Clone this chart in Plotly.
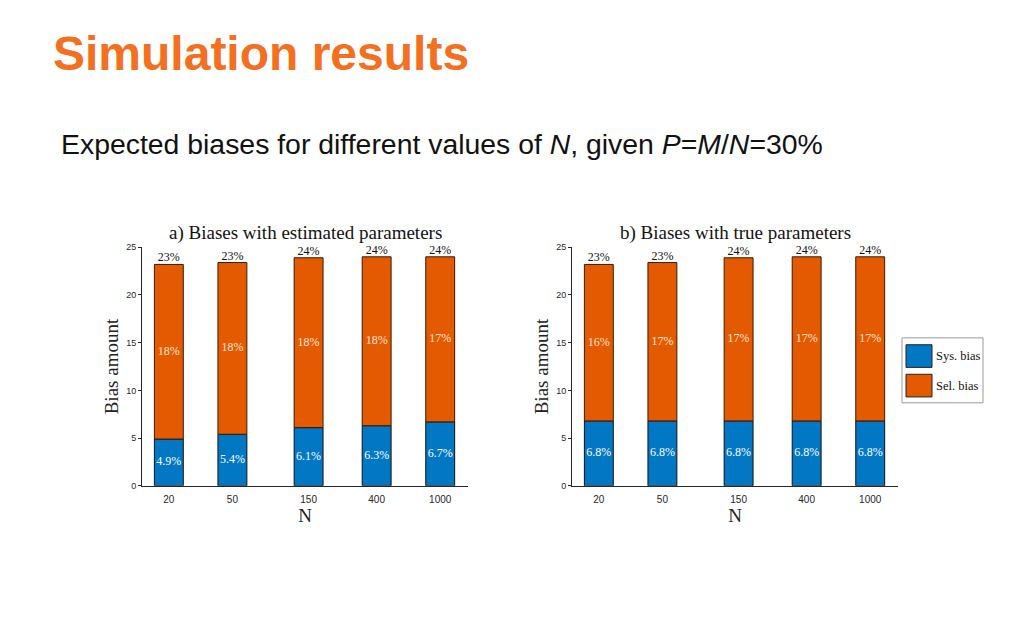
import numpy as np
import plotly.graph_objects as go

# ---------------- data ----------------
N_values = [20, 50, 150, 400, 1000]
tick_labels = ["20", "50", "150", "400", "1000"]
sys_est = [4.9, 5.4, 6.1, 6.3, 6.7]
sel_est = [18.3, 18.0, 17.8, 17.7, 17.3]
sys_true = [6.8, 6.8, 6.8, 6.8, 6.8]
sel_true = [16.4, 16.6, 17.1, 17.2, 17.2]
panel_titles = ["a) Biases with estimated parameters", "b) Biases with true parameters"]
series_names = ["Sys. bias", "Sel. bias"]
y_ticks = [0, 5, 10, 15, 20, 25]

# ---------------- style ----------------
W, H = 1024, 640
OFF = 8  # page body margin
BLUE = "#0277C4"
ORANGE = "#E35A00"
SERIF = "Liberation Serif"
SANS = "Liberation Sans"
AXC = "#262626"

xpos = np.log10(N_values)
bar_w = 0.181

fig = go.Figure()

panels = [(sys_est, sel_est, "x", "y"), (sys_true, sel_true, "x2", "y2")]
for sys_v, sel_v, xa, ya in panels:
    sys_a = np.array(sys_v)
    sel_a = np.array(sel_v)
    tot = sys_a + sel_a
    fig.add_trace(go.Bar(x=xpos, y=sys_a, width=bar_w, marker=dict(color=BLUE, line=dict(color="#111", width=1)),
                         xaxis=xa, yaxis=ya, name=series_names[0], showlegend=False, hoverinfo="skip"))
    fig.add_trace(go.Bar(x=xpos, y=sel_a, base=sys_a, width=bar_w,
                         marker=dict(color=ORANGE, line=dict(color="#3a1a00", width=1)),
                         xaxis=xa, yaxis=ya, name=series_names[1], showlegend=False, hoverinfo="skip"))
    # labels
    fig.add_trace(go.Scatter(x=xpos, y=sys_a / 2, mode="text",
                             text=[f"{v:.1f}%" for v in sys_a],
                             textfont=dict(family=SERIF, size=12, color="white"),
                             xaxis=xa, yaxis=ya, showlegend=False, hoverinfo="skip", cliponaxis=False))
    fig.add_trace(go.Scatter(x=xpos, y=sys_a + sel_a / 2, mode="text",
                             text=[f"{v:.0f}%" for v in sel_a],
                             textfont=dict(family=SERIF, size=12, color="#FBE6D6"),
                             xaxis=xa, yaxis=ya, showlegend=False, hoverinfo="skip", cliponaxis=False))
    fig.add_trace(go.Scatter(x=xpos, y=tot, mode="text", textposition="top center",
                             text=[f"{v:.0f}%" for v in tot],
                             textfont=dict(family=SERIF, size=12, color="#111"),
                             xaxis=xa, yaxis=ya, showlegend=False, hoverinfo="skip", cliponaxis=False))

def px_x(p):
    return (p - OFF) / W

def px_y(p):
    return 1 - (p - OFF) / H

ydom = [px_y(488.3), px_y(246)]
xdoms = [[px_x(142), px_x(468)], [px_x(572), px_x(898)]]

common_x = dict(range=[1.133, 3.174], tickvals=list(xpos), ticktext=tick_labels,
                showline=True, linecolor=AXC, linewidth=1, ticks="", showgrid=False, zeroline=False,
                tickfont=dict(family=SANS, size=10, color=AXC), ticklabelstandoff=4,
                title=dict(text="N", font=dict(family=SERIF, size=19, color="#222"), standoff=4))
common_y = dict(range=[0, 25], tickvals=y_ticks, showline=True, linecolor=AXC, linewidth=1,
                ticks="outside", ticklen=3, tickcolor=AXC, showgrid=False, zeroline=False,
                tickfont=dict(family=SANS, size=9, color=AXC),
                title=dict(text="Bias amount", font=dict(family=SERIF, size=19, color="#222"), standoff=2))

fig.update_layout(
    width=W, height=H, margin=dict(l=0, r=0, t=0, b=0),
    paper_bgcolor="white", plot_bgcolor="white",
    barmode="overlay", showlegend=False,
    xaxis=dict(domain=xdoms[0], anchor="y", **common_x),
    yaxis=dict(domain=ydom, anchor="x", **common_y),
    xaxis2=dict(domain=xdoms[1], anchor="y2", **common_x),
    yaxis2=dict(domain=ydom, anchor="x2", **common_y),
)

annotations = []
for i, t in enumerate(panel_titles):
    annotations.append(dict(text=t, x=sum(xdoms[i]) / 2, y=px_y(231), xref="paper", yref="paper",
                            xanchor="center", yanchor="middle", showarrow=False,
                            font=dict(family=SERIF, size=19, color="#111")))
annotations.append(dict(text="<b>Simulation results</b>", x=px_x(51), y=px_y(49), xref="paper", yref="paper",
                        xanchor="left", yanchor="middle", showarrow=False,
                        font=dict(family=SANS, size=48, color="#F37021")))
annotations.append(dict(text="Expected biases for different values of <i>N</i>, given <i>P</i>=<i>M</i>/<i>N</i>=30%",
                        x=px_x(59), y=px_y(141), xref="paper", yref="paper",
                        xanchor="left", yanchor="middle", showarrow=False,
                        font=dict(family=SANS, size=28.4, color="#111")))

# custom legend
shapes = [dict(type="rect", xref="paper", yref="paper", x0=px_x(902), x1=px_x(983), y0=px_y(404), y1=px_y(338),
               line=dict(color="#999", width=1), fillcolor="white")]
leg_colors = [BLUE, ORANGE]
leg_y = [356.5, 386.5]
for c, yy, name in zip(leg_colors, leg_y, series_names):
    shapes.append(dict(type="rect", xref="paper", yref="paper", x0=px_x(906), x1=px_x(932),
                       y0=px_y(yy + 11.5), y1=px_y(yy - 11.5), line=dict(color="#222", width=1), fillcolor=c))
    annotations.append(dict(text=name, x=px_x(934), y=px_y(yy), xref="paper", yref="paper",
                            xanchor="left", yanchor="middle", showarrow=False,
                            font=dict(family=SERIF, size=12.5, color="#111")))

fig.update_layout(annotations=annotations, shapes=shapes)
fig.write_html("out.html")
